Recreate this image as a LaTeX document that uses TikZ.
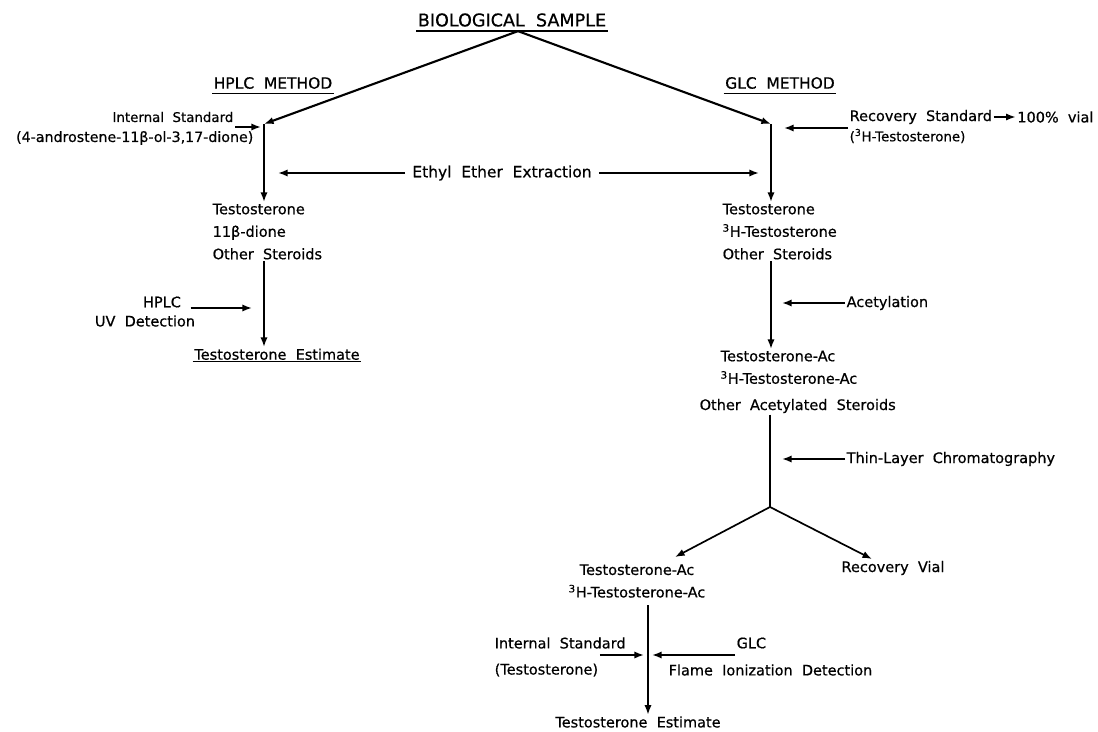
\documentclass[tikz,border=0pt]{standalone}
\usepackage{fontspec}
\setmainfont{DejaVu Sans}[WordSpace=2, FakeBold=0.6]
\usetikzlibrary{arrows.meta,positioning,calc}

\tikzset{
  lbl/.style={font=\fontsize{10.3}{16}\selectfont, inner sep=1pt, align=left},
  note/.style={font=\fontsize{9.5}{12}\selectfont, inner sep=1pt},
  head/.style={font=\fontsize{11}{13}\selectfont, inner xsep=1pt, inner ysep=3pt},
  ul/.style={append after command={(\tikzlastnode.south west) edge[line width=1pt] (\tikzlastnode.south east)}},
  arr/.style={-{Latex[length=2.4mm,width=1.8mm]}, line width=1.2pt},
  flow/.style={line width=1.2pt},
}

\begin{document}
\begin{tikzpicture}[x=0.025cm, y=-0.025cm]
\useasboundingbox (0,0) rectangle (1098,731);

% titres
\node[head, ul, font=\fontsize{12.5}{14}\selectfont] (sample) at (512,20) {BIOLOGICAL SAMPLE};
\node[head, ul] (hplc) at (273,83) {HPLC METHOD};
\node[head, ul] (glc) at (780,83) {GLC METHOD};
\coordinate (apex) at ($(sample.south)+(6,0)$);

% colonne HPLC
\coordinate (htop) at (264,124);
\draw[arr, line width=1.5pt] (apex) -- (htop);
\node[lbl, anchor=north west] (hlist) at (211,202) {Testosterone\\11β-dione\\Other Steroids};
\draw[arr] (htop) -- (htop |- hlist.north);

\node[note, anchor=east] (istd) at (235,117) {Internal Standard};
\node[note, font=\fontsize{10.1}{12}\selectfont, anchor=east] (iform) at (255,138) {(4-androstene-11β-ol-3,17-dione)};
\coordinate (istdtip) at (261,127);
\draw[arr] (istdtip -| istd.east) -- (istdtip);

\node[lbl, anchor=north] (hest) at (277,347) {Testosterone Estimate};
\draw[line width=1pt] (hest.south west) -- (hest.south east);
\draw[arr] (hlist.south -| htop) -- (hest.north -| htop);

\node[lbl] (hplcrun) at (162,302) {HPLC};
\node[lbl] (uvdet) at (145,321) {UV Detection};
\coordinate (hplctip) at (252,308);
\draw[arr, shorten <=2mm] (hplctip -| hplcrun.east) -- (hplctip);

% colonne GLC
\coordinate (rtop) at (771,124);
\draw[arr, line width=1.5pt] (apex) -- (rtop);
\node[lbl, anchor=north west] (rlist) at (721,202) {Testosterone\\\textsuperscript{3}H-Testosterone\\Other Steroids};
\draw[arr] (rtop) -- (rtop |- rlist.north);

\node[lbl, font=\fontsize{11}{14}\selectfont, inner xsep=5pt] (ether) at (502,173) {Ethyl Ether Extraction};
\draw[arr, shorten >=3.5mm] (ether.west) -- (ether.west -| htop);
\draw[arr, shorten >=3mm] (ether.east) -- (ether.east -| rtop);

\node[lbl, anchor=west] (rstd) at (848,117) {Recovery Standard};
\node[lbl, right=0.55cm of rstd] (vial) {100\% vial};
\draw[arr] (rstd) -- (vial);
\node[note, anchor=west] (rform) at (848,136) {(\textsuperscript{3}H-Testosterone)};
\coordinate (rstdtip) at (784,128);
\draw[arr] (rstdtip -| rstd.west) -- (rstdtip);

\node[lbl, anchor=north west] (acboth) at (719,349) {Testosterone-Ac\\\textsuperscript{3}H-Testosterone-Ac};
\node[lbl, anchor=west] (acother) at (698,406) {Other Acetylated Steroids};
\draw[arr] (rlist.south -| rtop) -- (acboth.north -| rtop);
\node[lbl, anchor=west] (acet) at (845,303) {Acetylation};
\coordinate (acettip) at (782,303);
\draw[arr] (acet.west) -- (acettip);

% chromatographie et partage
\coordinate (split) at (770,507);
\draw[flow] (acother.south -| split) -- (split);
\node[lbl, anchor=west] (tlc) at (845,459) {Thin-Layer Chromatography};
\coordinate (tlctip) at (782,459);
\draw[arr] (tlc.west) -- (tlctip);

\node[lbl, align=center] (tacboth) at (637,581) {Testosterone-Ac\\\textsuperscript{3}H-Testosterone-Ac};
\node[lbl] (rvial) at (893,568) {Recovery Vial};
\coordinate (tacin) at (675,557);
\coordinate (rvin) at (872,559);
\draw[arr] (split) -- (tacin);
\draw[arr] (split) -- (rvin);

% dosage final
\node[lbl] (fest) at (638,722) {Testosterone Estimate};
\coordinate (btop) at (648,605);
\draw[arr] (btop) -- (btop |- fest.north);

\node[lbl, anchor=west] (istd2) at (493,643) {Internal Standard};
\node[lbl, anchor=west] (istd2b) at (493,670) {(Testosterone)};
\coordinate (istd2tip) at (644,655);
\draw[arr] (istd2tip -| istd2b.east) -- (istd2tip);

\node[lbl, anchor=west] (glcrun) at (735,643) {GLC};
\node[lbl, anchor=west] (fid) at (667,670) {Flame Ionization Detection};
\coordinate (glctip) at (652,655);
\draw[arr] (glctip -| glcrun.west) -- (glctip);
\end{tikzpicture}
\end{document}
